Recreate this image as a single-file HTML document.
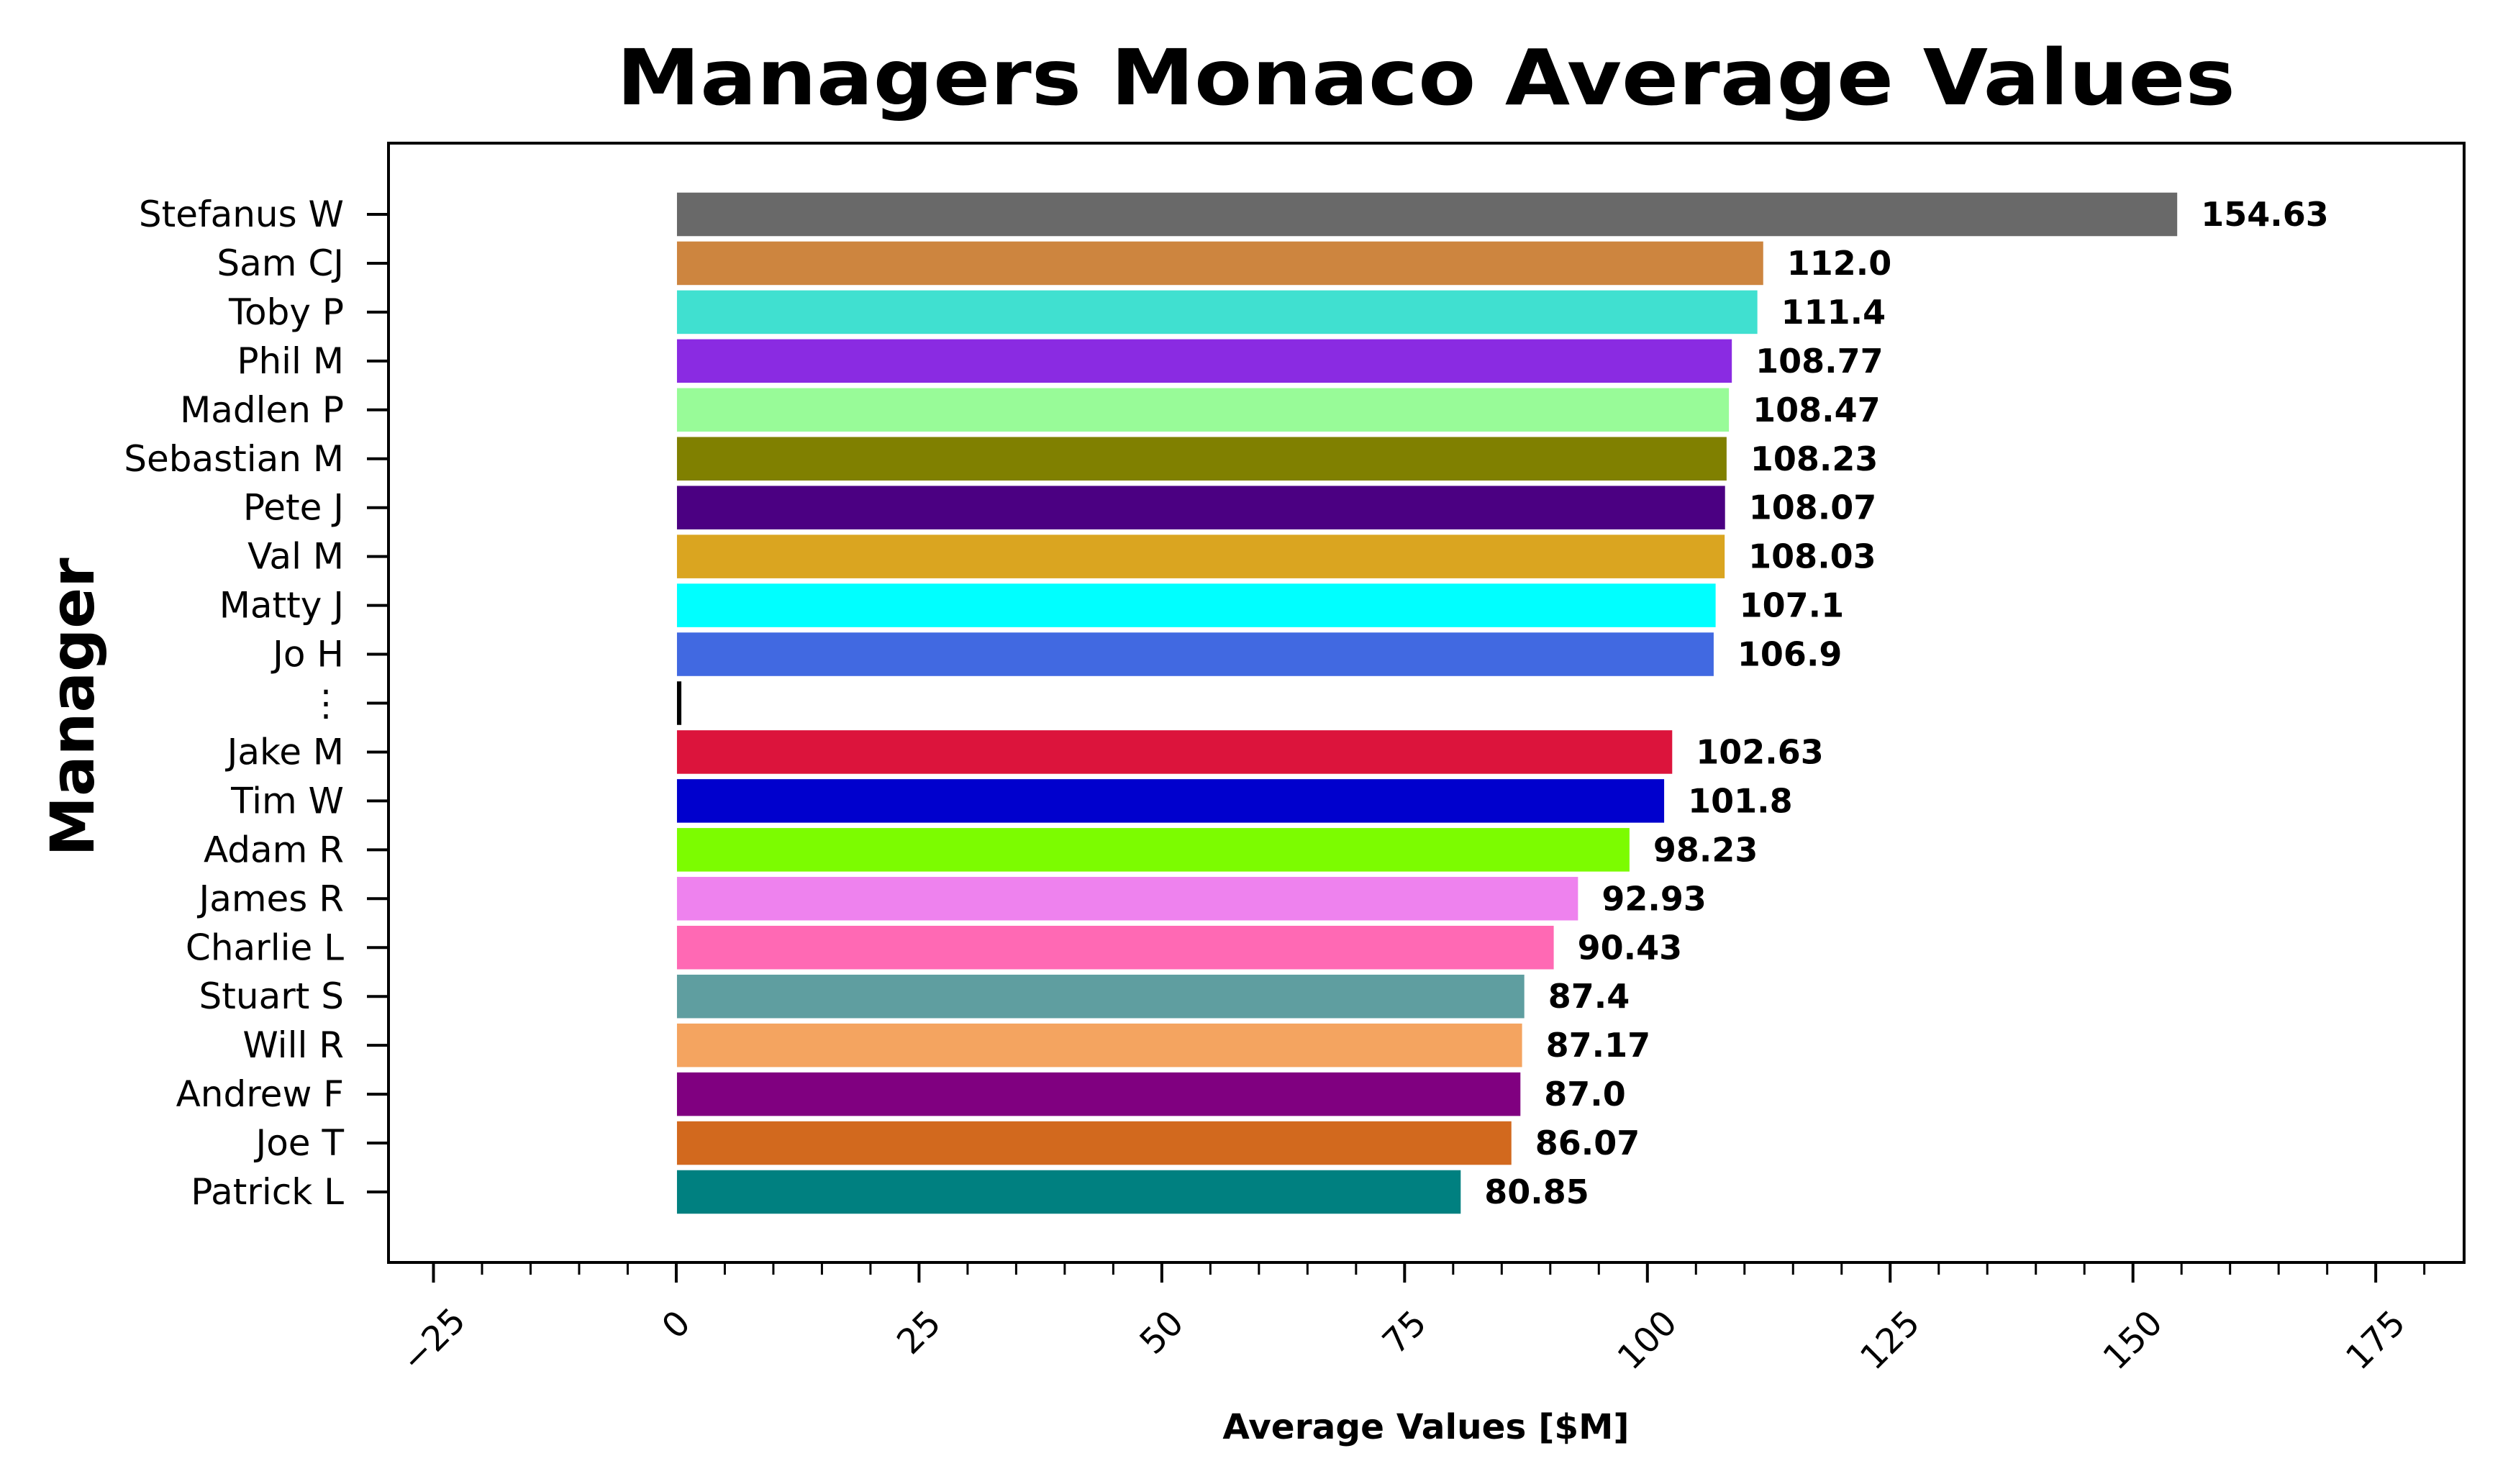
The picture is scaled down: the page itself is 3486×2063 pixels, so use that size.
<!DOCTYPE html>
<html><head><meta charset="utf-8"><style>
html,body{margin:0;padding:0;background:#fff;}
svg{display:block;font-family:"DejaVu Sans","Liberation Sans",sans-serif;}
</style></head><body>
<svg id="chart" width="3486" height="2063" viewBox="0 0 3486 2063" xmlns="http://www.w3.org/2000/svg">
<rect width="3486" height="2063" fill="#fff"/>
<text x="1982" y="145" font-size="107" font-weight="bold" text-anchor="middle" textLength="2250" lengthAdjust="spacingAndGlyphs">Managers Monaco Average Values</text>
<text transform="translate(130,983) rotate(-90)" font-size="84" font-weight="bold" text-anchor="middle">Manager</text>
<text x="1982" y="2000" font-size="48.5" font-weight="bold" text-anchor="middle">Average Values [$M]</text>
<g id="bars"></g>
<g id="xticks"></g>
<g id="yticks"></g>
<rect x="540" y="199" width="2885" height="1556" fill="none" stroke="#000" stroke-width="4"/>
</svg>
<script>
const categories = ["Stefanus W","Sam CJ","Toby P","Phil M","Madlen P","Sebastian M","Pete J","Val M","Matty J","Jo H","⋮","Jake M","Tim W","Adam R","James R","Charlie L","Stuart S","Will R","Andrew F","Joe T","Patrick L"];
const values = [154.63,112.0,111.4,108.77,108.47,108.23,108.07,108.03,107.1,106.9,0.6,102.63,101.8,98.23,92.93,90.43,87.4,87.17,87.0,86.07,80.85];
const valueLabels = ["154.63","112.0","111.4","108.77","108.47","108.23","108.07","108.03","107.1","106.9","","102.63","101.8","98.23","92.93","90.43","87.4","87.17","87.0","86.07","80.85"];
const colors = ["#696969","#CD853F","#40E0D0","#8A2BE2","#98FB98","#808000","#4B0082","#DAA520","#00FFFF","#4169E1","#000000","#DC143C","#0000CD","#7CFC00","#EE82EE","#FF69B4","#5F9EA0","#F4A460","#800080","#D2691E","#008080"];
const xTickValues = [-25,0,25,50,75,100,125,150,175];
const xTickLabels = ["\u221225","0","25","50","75","100","125","150","175"];
const xMin = -29.63, xMax = 184.1;

const NS = "http://www.w3.org/2000/svg";
const L = 540, R = 3425, T = 199, B = 1755;
const xs = v => L + (v - xMin) / (xMax - xMin) * (R - L);
const y0 = 298, pitch = 67.95;
const ys = i => y0 + i * pitch;
function mk(tag, attrs, parent){const e=document.createElementNS(NS,tag);for(const k in attrs)e.setAttribute(k,attrs[k]);parent.appendChild(e);return e;}

const gb = document.getElementById("bars");
categories.forEach((c,i)=>{
  const h = pitch*0.92;
  const r = mk("rect",{x:xs(0),y:ys(i)-h/2,width:Math.max(0,xs(values[i])-xs(0)),height:h,fill:colors[i],stroke:"#fff","stroke-width":2},gb);
  
  
  if(valueLabels[i]){
    const t = mk("text",{x:xs(values[i])+32,y:ys(i),"font-size":46,"font-weight":"bold","dominant-baseline":"central"},gb);
    t.textContent = valueLabels[i];
    
    
  }
});

const gy = document.getElementById("yticks");
categories.forEach((c,i)=>{
  mk("line",{x1:L-30,x2:L,y1:ys(i),y2:ys(i),stroke:"#000","stroke-width":4},gy);
  const t = mk("text",{x:L-62,y:ys(i),"font-size":50,"text-anchor":"end","dominant-baseline":"central"},gy);
  t.textContent = c;
  
  
});

const gx = document.getElementById("xticks");
for(let v=-25; v<=180; v+=5){
  const x = xs(v);
  if(x<L-1||x>R+1) continue;
  const major = v%25===0;
  mk("line",{x1:x,x2:x,y1:B,y2:B+(major?28:17),stroke:"#000","stroke-width":major?4:3},gx);
}
xTickValues.forEach((v,i)=>{
  const lab = xTickLabels[i];
  const w = lab.length*0.636*48, h = 56;
  const cy = 1811 + (w+h)*0.707/2;
  const t = mk("text",{x:xs(v),y:cy,"font-size":48,"text-anchor":"middle","dominant-baseline":"central",transform:`rotate(-45 ${xs(v)} ${cy})`},gx);
  t.textContent = lab;
  
  
});
</script>
</body></html>
